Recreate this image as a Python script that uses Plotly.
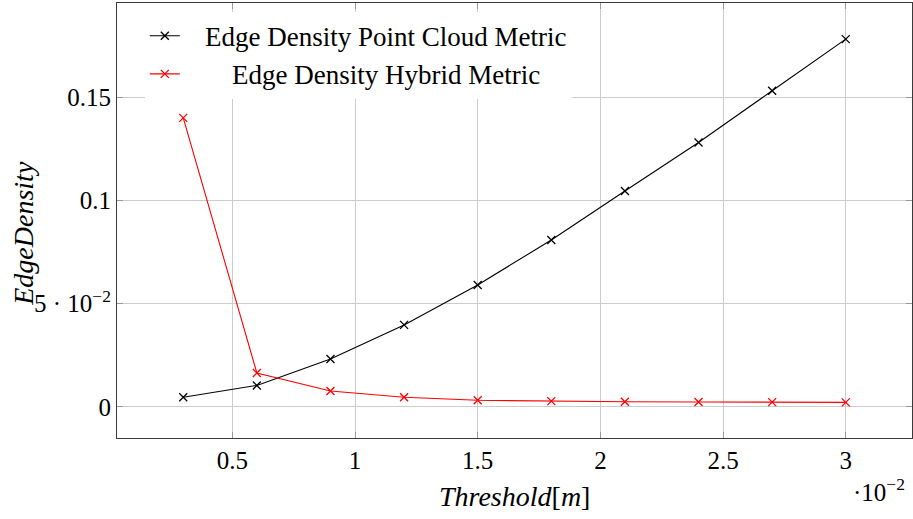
import plotly.graph_objects as go

threshold = [0.3, 0.6, 0.9, 1.2, 1.5, 1.8, 2.1, 2.4, 2.7, 3.0]  # x 10^-2 m
point_cloud = [0.0047, 0.0104, 0.0232, 0.0397, 0.0590, 0.0808, 0.1045, 0.1280, 0.1530, 0.1780]
hybrid = [0.1399, 0.0164, 0.0077, 0.0047, 0.0032, 0.0028, 0.0025, 0.0024, 0.0023, 0.0022]

x_ticks = [0.5, 1, 1.5, 2, 2.5, 3]
x_ticktext = ["0.5", "1", "1.5", "2", "2.5", "3"]
y_ticks = [0, 0.05, 0.1, 0.15]
y_ticktext = ["0", "5 · 10<sup>−2</sup>", "0.1", "0.15"]

FONT = "Liberation Serif"
FS = 25
NB = "\u00a0"

fig = go.Figure()
fig.add_trace(go.Scatter(
    x=threshold, y=point_cloud, mode="lines+markers",
    name=NB * 3 + "Edge Density Point Cloud Metric",
    line=dict(color="black", width=1.1),
    marker=dict(symbol="x-thin-open", size=8, color="black", line=dict(color="black", width=1.3)),
))
fig.add_trace(go.Scatter(
    x=threshold, y=hybrid, mode="lines+markers",
    name=NB * 7 + "Edge Density Hybrid Metric",
    line=dict(color="red", width=1.1),
    marker=dict(symbol="x-thin-open", size=8, color="red", line=dict(color="red", width=1.3)),
))

axis_common = dict(
    showline=True, linecolor="#3a3a3a", linewidth=1.2, mirror="ticks",
    ticks="inside", ticklen=6, tickcolor="#999999", tickwidth=1,
    showgrid=True, gridcolor="#cccccc", gridwidth=1, zeroline=False,
    automargin=False,
    tickfont=dict(family=FONT, size=FS, color="black"),
)

fig.update_layout(
    width=913, height=519,
    margin=dict(l=117, r=1, t=3, b=81, autoexpand=False),
    paper_bgcolor="white", plot_bgcolor="white",
    font=dict(family=FONT, size=FS, color="black"),
    showlegend=True,
    legend=dict(
        x=0.035, y=0.98, xanchor="left", yanchor="top",
        bgcolor="white", borderwidth=0,
        font=dict(family=FONT, size=27, color="black"),
        tracegroupgap=0,
    ),
    xaxis=dict(range=[0.03, 3.27], tickvals=x_ticks, ticktext=x_ticktext, **axis_common),
    yaxis=dict(range=[-0.01505, 0.1955], tickvals=y_ticks, ticktext=y_ticktext, **axis_common),
    annotations=[
        dict(text="<i>Threshold</i>[<i>m</i>]", xref="paper", yref="paper",
             x=0.5, y=-0.135, xanchor="center", yanchor="middle", showarrow=False,
             font=dict(family=FONT, size=28)),
        dict(text="·10<sup>−2</sup>", xref="paper", yref="paper",
             x=0.958, y=-0.12, xanchor="center", yanchor="middle", showarrow=False,
             font=dict(family=FONT, size=FS)),
        dict(text="<i>EdgeDensity</i>", xref="paper", yref="paper",
             x=-0.118, y=0.47, xanchor="center", yanchor="middle", showarrow=False,
             textangle=-90, font=dict(family=FONT, size=28)),
    ],
)

fig.write_html("out.html", config={"displayModeBar": False},
               post_script="document.body.style.margin='0';document.body.style.padding='0';")
